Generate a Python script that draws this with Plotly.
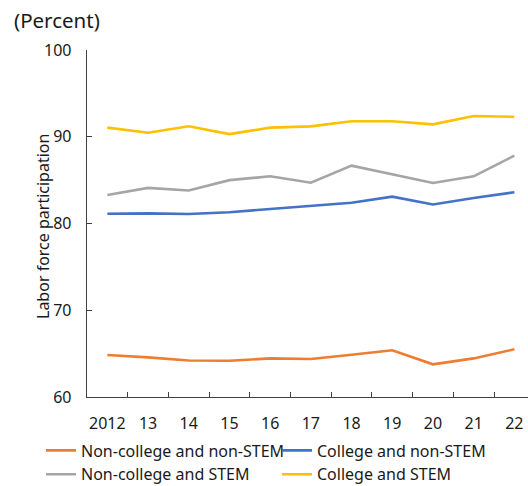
import plotly.graph_objects as go

years = ["2012", "13", "14", "15", "16", "17", "18", "19", "20", "21", "22"]

noncollege_nonstem = [64.84, 64.57, 64.20, 64.18, 64.45, 64.38, 64.88, 65.38, 63.77, 64.45, 65.50]
college_nonstem = [81.13, 81.17, 81.10, 81.30, 81.67, 82.05, 82.40, 83.10, 82.20, 82.94, 83.60]
noncollege_stem = [83.29, 84.10, 83.80, 85.00, 85.44, 84.70, 86.67, 85.67, 84.67, 85.44, 87.82]
college_stem = [91.05, 90.47, 91.20, 90.30, 91.05, 91.20, 91.78, 91.78, 91.43, 92.39, 92.30]

y_ticks = [60, 70, 80, 90, 100]

series = [
    ("Non-college and non-STEM", noncollege_nonstem, "#ED7D31"),
    ("College and non-STEM", college_nonstem, "#4472C4"),
    ("Non-college and STEM", noncollege_stem, "#A5A5A5"),
    ("College and STEM", college_stem, "#FFC000"),
]

FONT = "Noto Sans"
INK = "#1a1a1a"
AXIS = "#404040"

fig = go.Figure()
for name, vals, color in series:
    fig.add_trace(go.Scatter(
        x=years, y=vals, name=name, mode="lines",
        line=dict(color=color, width=2.6),
    ))

# an invisible trailing digit keeps the y labels clear of the axis line
pad = "<span style='color:rgba(0,0,0,0)'>0</span>"

# plot area: 87px from the left, 50px from the top, 441 x 347 px
fig.update_layout(
    width=528, height=486,
    margin=dict(l=87, r=0, t=50, b=89, autoexpand=False),
    paper_bgcolor="white", plot_bgcolor="white",
    font=dict(family=FONT, size=16, color=INK),
    showlegend=True,
    legend=dict(
        orientation="h",
        x=-46 / 441, xanchor="left", y=-36.5 / 347, yanchor="top",
        entrywidthmode="pixels", entrywidth=191,
        font=dict(family=FONT, size=16, color=INK),
        itemwidth=30, bgcolor="rgba(0,0,0,0)",
    ),
    xaxis=dict(
        type="category", range=[-0.5, 10.335],
        showline=True, linecolor=AXIS, linewidth=1.2,
        ticks="inside", ticklen=5, tickcolor=AXIS, tickson="boundaries",
        showgrid=False, zeroline=False, tickangle=0,
        tickfont=dict(size=16), ticklabelstandoff=12,
    ),
    yaxis=dict(
        range=[60, 100], tickvals=y_ticks,
        ticktext=[f"{v}{pad}" for v in y_ticks],
        showline=True, linecolor=AXIS, linewidth=1.2,
        ticks="inside", ticklen=5, tickcolor=AXIS,
        showgrid=False, zeroline=False,
        tickfont=dict(size=16), ticklabelstandoff=2,
    ),
    annotations=[
        dict(
            text="(Percent)", xref="paper", yref="paper",
            x=-75 / 441, y=1 + 30 / 347, xanchor="left", yanchor="middle",
            showarrow=False, font=dict(family=FONT, size=20.5, color=INK),
        ),
        dict(
            text="Labor force participation", xref="paper", yref="paper",
            x=-44 / 441, y=(397 - 227) / 347, xanchor="center", yanchor="middle",
            textangle=-90, showarrow=False,
            font=dict(family=FONT, size=16, color=INK),
        ),
    ],
)

fig.write_html("out.html")
